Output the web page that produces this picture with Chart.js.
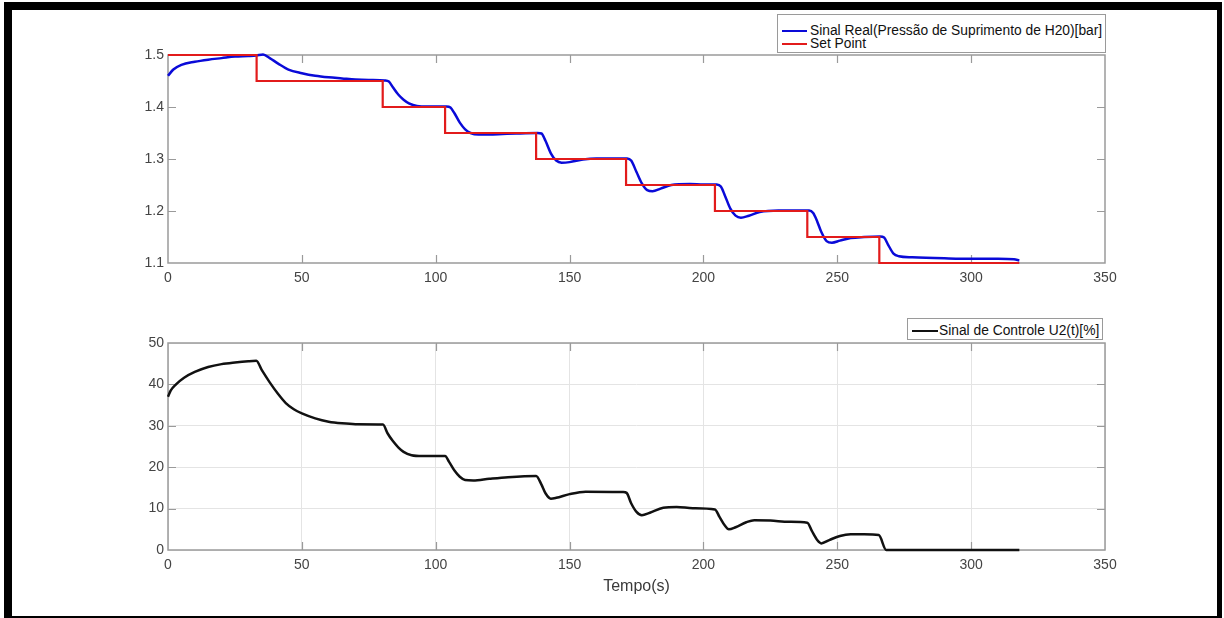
<!DOCTYPE html>
<html>
<head>
<meta charset="utf-8">
<script src="https://cdn.jsdelivr.net/npm/chart.js@4"></script>
<style>
  html, body { margin: 0; padding: 0; background: #fff; }
  body { width: 1224px; height: 618px; position: relative; overflow: hidden; font-family: "Liberation Sans", Arial, sans-serif; }
  canvas { position: absolute; left: 0; }
  #frame { position: absolute; left: 4px; top: 2px; width: 1205px; height: 606px; border-style: solid; border-color: #000; border-width: 8px 5px 2px 8px; pointer-events: none; }
  .legend { position: absolute; background: #fff; border: 1px solid #9a9a9a; box-sizing: border-box; }
  .row { position: absolute; left: 0; height: 14px; line-height: 14px; font-size: 13.8px; color: #111; white-space: nowrap; }
  .row span.sample { position: absolute; top: 6px; height: 2px; }
  .row span.txt { position: absolute; top: 0; }
</style>
</head>
<body>
<canvas id="topChart" width="1224" height="300" style="top:0"></canvas>
<canvas id="bottomChart" width="1224" height="318" style="top:300px"></canvas>

<div class="legend" style="left:777px;top:14px;width:329px;height:39px">
  <div class="row" style="top:9px"><span class="sample" style="left:4px;width:25px;background:#0a0ad8"></span><span class="txt" style="left:32px">Sinal Real(Pressão de Suprimento de H20)[bar]</span></div>
  <div class="row" style="top:22px"><span class="sample" style="left:4px;width:25px;background:#e21b1b"></span><span class="txt" style="left:32px">Set Point</span></div>
</div>
<div class="legend" style="left:907px;top:318px;width:196px;height:22px">
  <div class="row" style="top:5px"><span class="sample" style="left:4px;width:26px;background:#111"></span><span class="txt" style="left:31px">Sinal de Controle U2(t)[%]</span></div>
</div>
<div id="frame"></div>

<script>
// tempo (s) e pressão medida
const tPressao = [0, 2, 5, 10, 15, 20, 25, 30, 33, 35.5, 38, 41, 45, 50, 55, 60, 65, 70, 75, 81,
  82.5, 84, 86, 88, 90, 93, 97, 104, 105.5, 107, 109, 111, 113, 116, 120, 125, 130, 138,
  139.5, 141, 143, 145, 147, 150, 155, 160, 166, 171.5, 173, 175, 177, 179, 181, 184, 188, 195, 200, 205,
  206.5, 208, 210, 212, 214, 217, 221, 228, 235, 239.5, 241, 242.5, 244, 246, 248, 251, 255, 260, 266,
  267.5, 269, 271, 273, 278, 290, 300, 310, 316, 318];
const pressao = [1.46, 1.472, 1.481, 1.487, 1.491, 1.494, 1.497, 1.498, 1.499, 1.501, 1.494, 1.484, 1.472, 1.465, 1.460, 1.457, 1.455, 1.453, 1.452, 1.451,
  1.449, 1.438, 1.424, 1.414, 1.407, 1.402, 1.401, 1.401, 1.399, 1.388, 1.370, 1.357, 1.350, 1.347, 1.347, 1.348, 1.349, 1.350,
  1.349, 1.335, 1.311, 1.297, 1.293, 1.294, 1.299, 1.301, 1.301, 1.301, 1.297, 1.275, 1.253, 1.240, 1.238, 1.243, 1.250, 1.252, 1.251, 1.251,
  1.247, 1.230, 1.205, 1.191, 1.187, 1.191, 1.198, 1.201, 1.201, 1.201, 1.196, 1.180, 1.160, 1.142, 1.139, 1.143, 1.148, 1.150, 1.151,
  1.149, 1.135, 1.118, 1.113, 1.111, 1.109, 1.108, 1.108, 1.107, 1.105];

// set point (degraus)
const tSetPoint = [0, 33.1, 80.2, 103.5, 137.5, 171.1, 204.3, 238.8, 265.7, 318];
const setPoint = [1.5, 1.45, 1.40, 1.35, 1.30, 1.25, 1.20, 1.15, 1.10, 1.10];

// sinal de controle U2(t)
const tControle = [0, 1, 3, 6, 10, 15, 20, 25, 30, 33, 35, 38, 41, 44, 47, 50, 55, 60, 65, 70, 80.3,
  82, 84, 86, 88, 91, 95, 103.5, 105, 107, 109, 111, 114, 120, 127, 137.5,
  139.5, 141, 143, 145, 150, 156, 170, 171.3, 173, 175, 177, 180, 185, 190, 196, 204.3,
  206, 208, 209.5, 212, 216, 219, 225, 232, 238.8, 240.5, 242.5, 244, 247, 251, 255, 260, 265.5, 268.3, 280, 318];
const controle = [37, 38.5, 40, 41.6, 43.0, 44.2, 44.9, 45.3, 45.6, 45.7, 43.5, 40.5, 37.8, 35.5, 34, 33, 31.8, 31, 30.6, 30.4, 30.3,
  28.2, 26.3, 24.8, 23.7, 22.9, 22.7, 22.7, 21.3, 19.2, 17.7, 16.9, 16.8, 17.2, 17.6, 17.9,
  15.8, 13.7, 12.4, 12.6, 13.5, 14.1, 14.0, 13.8, 11.3, 9.2, 8.4, 9.0, 10.2, 10.4, 10.1, 9.8,
  8.0, 5.9, 5.0, 5.5, 6.7, 7.2, 7.1, 6.8, 6.6, 4.6, 2.4, 1.6, 2.4, 3.4, 3.8, 3.8, 3.6, 0, 0, 0];

const xTicks = [0, 50, 100, 150, 200, 250, 300, 350];

Chart.defaults.font.family = '"Liberation Sans", Arial, sans-serif';
Chart.defaults.font.size = 14;
Chart.defaults.color = '#444444';

function pts(xs, ys) {
  return xs.map((x, i) => ({ x: x, y: ys[i] }));
}

// caixa e marcas internas estilo MATLAB
const boxTicks = {
  id: 'boxTicks',
  beforeDatasetsDraw(chart) {
    const { ctx, chartArea: a, scales: { x, y } } = chart;
    ctx.save();
    ctx.strokeStyle = '#9a9a9a';
    ctx.lineWidth = 1.2;
    ctx.beginPath();
    x.ticks.forEach(t => {
      const px = Math.round(x.getPixelForValue(t.value)) + 0.5;
      if (px <= a.left + 1 || px >= a.right - 1) return;
      ctx.moveTo(px, a.bottom); ctx.lineTo(px, a.bottom - 8);
      ctx.moveTo(px, a.top); ctx.lineTo(px, a.top + 8);
    });
    y.ticks.forEach(t => {
      const py = Math.round(y.getPixelForValue(t.value)) + 0.5;
      if (py <= a.top + 1 || py >= a.bottom - 1) return;
      ctx.moveTo(a.left, py); ctx.lineTo(a.left + 8, py);
      ctx.moveTo(a.right, py); ctx.lineTo(a.right - 8, py);
    });
    ctx.stroke();
    ctx.lineWidth = 1.5;
    ctx.strokeRect(a.left, a.top, a.right - a.left, a.bottom - a.top);
    ctx.restore();
  }
};

function xScale(withGrid, title) {
  return {
    type: 'linear',
    min: 0,
    max: 350,
    afterBuildTicks: s => { s.ticks = xTicks.map(v => ({ value: v })); },
    ticks: { padding: 7, maxRotation: 0 },
    grid: { display: withGrid, color: '#e4e4e4', drawTicks: false },
    border: { display: false },
    title: title ? { display: true, text: title, font: { size: 16 }, color: '#3a3a3a', padding: { top: 0, bottom: 0 } } : { display: false },
    afterFit: s => { s.height = title ? 46 : 30; }
  };
}

function yScale(min, max, step, withGrid, digits) {
  return {
    min: min,
    max: max,
    ticks: { stepSize: step, padding: 4, callback: v => Number(v).toFixed(digits) },
    grid: { display: withGrid, color: '#e4e4e4', drawTicks: false },
    border: { display: false },
    afterFit: s => { s.width = 168; }
  };
}

new Chart(document.getElementById('topChart'), {
  type: 'line',
  data: {
    datasets: [
      {
        label: 'Sinal Real(Pressão de Suprimento de H20)[bar]',
        data: pts(tPressao, pressao),
        borderColor: '#0a0ad8',
        borderWidth: 2.5,
        pointRadius: 0,
        cubicInterpolationMode: 'monotone',
        tension: 0.4,
        clip: 4,
        order: 2
      },
      {
        label: 'Set Point',
        data: pts(tSetPoint, setPoint),
        borderColor: '#e21b1b',
        borderWidth: 2.2,
        pointRadius: 0,
        stepped: 'before',
        clip: 4,
        order: 1
      }
    ]
  },
  options: {
    responsive: false,
    animation: false,
    layout: { padding: { left: 0, right: 119, top: 55, bottom: 7 } },
    plugins: { legend: { display: false }, tooltip: { enabled: false } },
    scales: {
      x: xScale(false, null),
      y: yScale(1.1, 1.5, 0.1, false, 1)
    }
  },
  plugins: [boxTicks]
});

new Chart(document.getElementById('bottomChart'), {
  type: 'line',
  data: {
    datasets: [
      {
        label: 'Sinal de Controle U2(t)[%]',
        data: pts(tControle, controle),
        borderColor: '#111111',
        borderWidth: 2.5,
        pointRadius: 0,
        cubicInterpolationMode: 'monotone',
        tension: 0.4,
        clip: 4
      }
    ]
  },
  options: {
    responsive: false,
    animation: false,
    layout: { padding: { left: 0, right: 119, top: 43, bottom: 22 } },
    plugins: { legend: { display: false }, tooltip: { enabled: false } },
    scales: {
      x: xScale(true, 'Tempo(s)'),
      y: yScale(0, 50, 10, true, 0)
    }
  },
  plugins: [boxTicks]
});
</script>
</body>
</html>
